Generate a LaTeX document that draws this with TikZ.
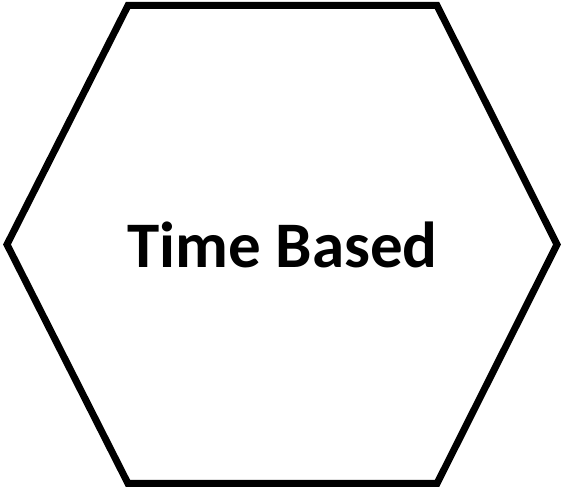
\documentclass[tikz,border=0pt]{standalone}
\usepackage{fontspec}
\setmainfont{Carlito}
\usepackage{tikz}
\usetikzlibrary{positioning,calc}
\tikzstyle{hexline} = [draw=black, line width=7pt, line join=miter]
\tikzstyle{hexlabel} = [font=\fontsize{65}{78}\selectfont\bfseries, inner sep=0pt]

\begin{document}
\begin{tikzpicture}[x=1pt, y=1pt]
  \useasboundingbox (0,0) rectangle (564,489);

  \draw[hexline] (7,244.5) -- (128,483.5) -- (437,483.5) -- (557,244.5)
                 -- (437,5.5) -- (128,5.5) -- cycle;
  \node[hexlabel] (tb) at (282.5,244.5) {Time Based};

\end{tikzpicture}
\end{document}
